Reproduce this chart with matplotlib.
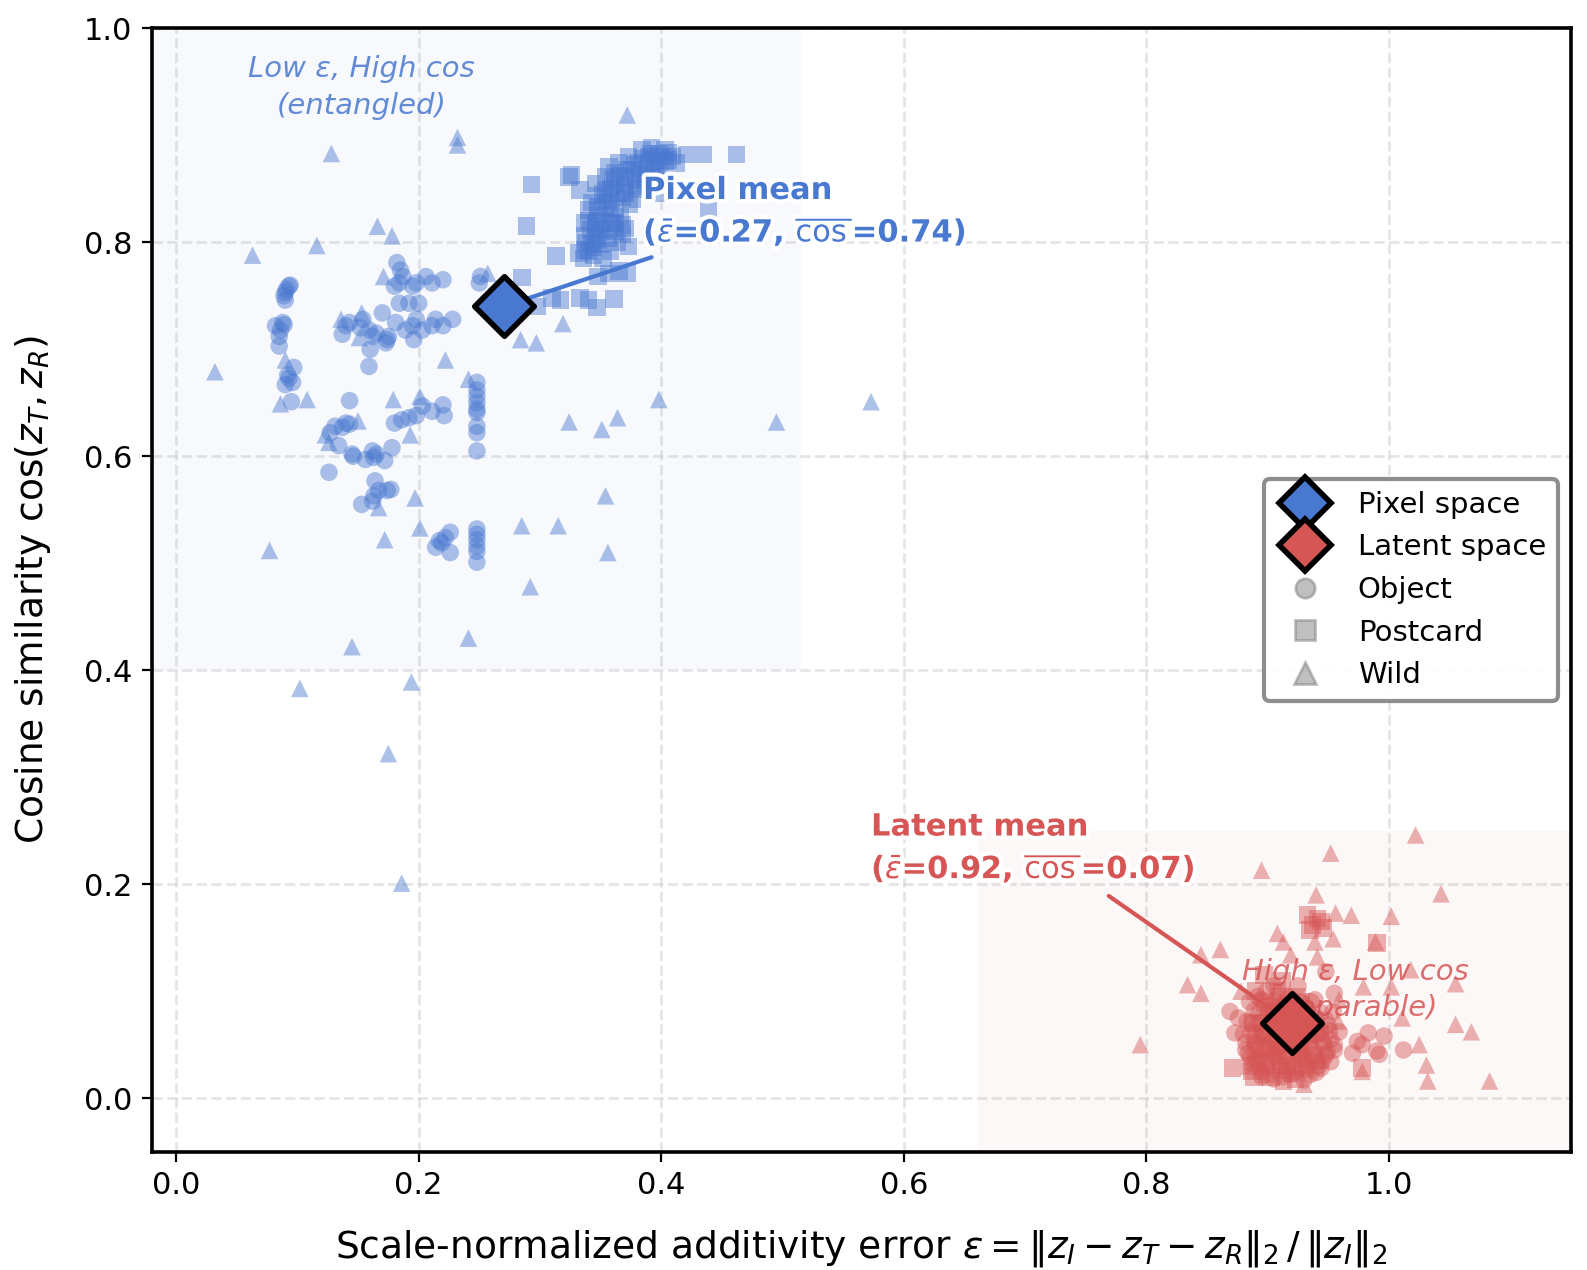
import numpy as np
import matplotlib
matplotlib.use("Agg")
import matplotlib.pyplot as plt
import matplotlib.patheffects as pe
from matplotlib.lines import Line2D
from matplotlib.patches import Rectangle

BLUE = "#4878d0"
RED = "#d65555"

# Pixel space points (epsilon, cos) per dataset
pix_obj_x = [0.090, 0.093, 0.091, 0.089, 0.094, 0.090,
             0.082, 0.088, 0.086, 0.085, 0.085, 0.089,
             0.092, 0.093, 0.097, 0.090, 0.096, 0.095,
             0.182, 0.185, 0.187, 0.184, 0.195, 0.198, 0.206, 0.211, 0.220, 0.180,
             0.184, 0.192, 0.200, 0.170, 0.181, 0.198, 0.195, 0.203, 0.211, 0.220,
             0.228, 0.214, 0.196, 0.189,
             0.140, 0.137, 0.143, 0.154, 0.152, 0.159, 0.162, 0.165, 0.160, 0.173,
             0.175, 0.174, 0.159,
             0.251, 0.250,
             0.248, 0.248, 0.248, 0.248, 0.248, 0.248, 0.248, 0.248, 0.248,
             0.131, 0.137, 0.143, 0.140, 0.127, 0.134, 0.143,
             0.186, 0.192, 0.198, 0.203, 0.211, 0.220, 0.221, 0.180,
             0.145, 0.146, 0.156, 0.162, 0.165, 0.172, 0.178, 0.163, 0.126,
             0.164, 0.167, 0.174, 0.177, 0.163, 0.153, 0.162,
             0.217, 0.222, 0.226, 0.219, 0.214, 0.226,
             0.248, 0.248, 0.248, 0.248, 0.248, 0.248]
pix_obj_y = [0.753, 0.759, 0.756, 0.750, 0.760, 0.746,
             0.722, 0.725, 0.718, 0.712, 0.703, 0.723,
             0.676, 0.673, 0.683, 0.667, 0.669, 0.651,
             0.781, 0.774, 0.768, 0.762, 0.759, 0.762, 0.768, 0.762, 0.765, 0.759,
             0.743, 0.743, 0.743, 0.734, 0.725, 0.728, 0.722, 0.718, 0.722, 0.722,
             0.728, 0.728, 0.709, 0.718,
             0.722, 0.714, 0.725, 0.728, 0.720, 0.718, 0.712, 0.715, 0.700, 0.706,
             0.712, 0.709, 0.684,
             0.768, 0.762,
             0.669, 0.662, 0.656, 0.650, 0.644, 0.641, 0.628, 0.622, 0.605,
             0.628, 0.627, 0.630, 0.631, 0.622, 0.610, 0.652,
             0.634, 0.636, 0.638, 0.647, 0.642, 0.648, 0.638, 0.631,
             0.602, 0.600, 0.597, 0.605, 0.602, 0.596, 0.608, 0.599, 0.585,
             0.577, 0.568, 0.568, 0.569, 0.563, 0.555, 0.558,
             0.521, 0.524, 0.529, 0.519, 0.515, 0.510,
             0.532, 0.527, 0.522, 0.516, 0.511, 0.501]

pix_post_x = [0.293, 0.326, 0.289, 0.285, 0.313, 0.298, 0.310, 0.317, 0.333, 0.340,
              0.347, 0.361, 0.373, 0.348, 0.357, 0.365, 0.372, 0.332, 0.337, 0.343,
              0.348, 0.337, 0.346, 0.354, 0.362, 0.370,
              0.343, 0.348, 0.354, 0.362, 0.370, 0.376, 0.381, 0.390, 0.398, 0.406,
              0.412, 0.395, 0.387, 0.379, 0.370, 0.359, 0.348, 0.340, 0.346, 0.357,
              0.365, 0.373, 0.384, 0.392, 0.403, 0.362, 0.354, 0.376,
              0.421, 0.435, 0.462, 0.439, 0.399, 0.324, 0.333, 0.337,
              0.352, 0.358, 0.364, 0.368,
              0.352, 0.358, 0.364, 0.370, 0.376, 0.382, 0.388, 0.394, 0.400, 0.406,
              0.360, 0.366, 0.372, 0.378, 0.385, 0.391, 0.397, 0.403, 0.409, 0.380,
              0.386, 0.392, 0.398, 0.356, 0.368, 0.374, 0.362,
              0.336, 0.340, 0.344, 0.338, 0.346, 0.350, 0.342, 0.352, 0.358, 0.348,
              0.354, 0.360, 0.366, 0.344, 0.350, 0.356, 0.362, 0.368, 0.340, 0.346]
pix_post_y = [0.854, 0.863, 0.815, 0.767, 0.787, 0.740, 0.748, 0.746, 0.748, 0.746,
              0.739, 0.747, 0.796, 0.768, 0.771, 0.773, 0.771, 0.790, 0.793, 0.799,
              0.802, 0.818, 0.815, 0.812, 0.818, 0.813,
              0.837, 0.843, 0.849, 0.855, 0.861, 0.868, 0.874, 0.880, 0.883, 0.877,
              0.874, 0.871, 0.861, 0.852, 0.846, 0.840, 0.833, 0.830, 0.855, 0.871,
              0.874, 0.880, 0.886, 0.888, 0.886, 0.865, 0.861, 0.840,
              0.882, 0.882, 0.882, 0.832, 0.846, 0.861, 0.849, 0.806,
              0.785, 0.792, 0.800, 0.808,
              0.845, 0.850, 0.846, 0.852, 0.858, 0.864, 0.870, 0.876, 0.880, 0.884,
              0.858, 0.862, 0.868, 0.872, 0.878, 0.883, 0.872, 0.876, 0.880, 0.850,
              0.856, 0.862, 0.866, 0.838, 0.842, 0.836, 0.832,
              0.785, 0.792, 0.788, 0.800, 0.806, 0.812, 0.812, 0.820, 0.826, 0.826,
              0.832, 0.818, 0.824, 0.795, 0.798, 0.804, 0.810, 0.816, 0.820, 0.818]

pix_wild_x = [0.032, 0.063, 0.077, 0.102, 0.116, 0.128, 0.086, 0.108, 0.090, 0.123,
              0.126, 0.136, 0.145, 0.153, 0.151, 0.166, 0.167, 0.171, 0.172, 0.178,
              0.175, 0.179, 0.186, 0.194, 0.197, 0.193, 0.201, 0.201, 0.232, 0.232,
              0.241, 0.241, 0.257, 0.222, 0.284, 0.297, 0.285, 0.292, 0.319, 0.324,
              0.315, 0.354, 0.356, 0.351, 0.364, 0.372, 0.398, 0.495, 0.573, 0.150]
pix_wild_y = [0.679, 0.788, 0.512, 0.383, 0.797, 0.883, 0.649, 0.653, 0.690, 0.620,
              0.613, 0.728, 0.422, 0.734, 0.711, 0.815, 0.552, 0.768, 0.522, 0.806,
              0.322, 0.653, 0.201, 0.389, 0.561, 0.620, 0.533, 0.656, 0.898, 0.891,
              0.430, 0.672, 0.771, 0.690, 0.709, 0.706, 0.535, 0.478, 0.724, 0.632,
              0.535, 0.563, 0.510, 0.625, 0.636, 0.919, 0.653, 0.632, 0.651, 0.633]

# Latent space points
lat_obj_x = [0.876, 0.880, 0.882, 0.885, 0.887, 0.889, 0.891, 0.893, 0.895, 0.897,
             0.899, 0.900, 0.902, 0.904, 0.906, 0.908, 0.910, 0.912, 0.914, 0.916,
             0.918, 0.920, 0.922, 0.924, 0.926, 0.928, 0.930, 0.932, 0.934, 0.936,
             0.938, 0.940, 0.942, 0.944, 0.946, 0.948, 0.950, 0.952, 0.955, 0.886,
             0.892, 0.898, 0.903, 0.909, 0.915, 0.921, 0.927, 0.933, 0.939, 0.905,
             0.925, 0.913, 0.935, 0.895, 0.945, 0.918, 0.901, 0.929, 0.911, 0.937,
             0.869, 0.873, 0.959, 0.974, 0.983, 0.990, 0.978, 0.970, 0.996, 1.012,
             0.992, 0.948, 0.955, 0.954,
             0.895, 0.905, 0.918, 0.930, 0.940,
             0.888, 0.899, 0.909, 0.921, 0.933, 0.944, 0.952,
             0.884, 0.894, 0.906, 0.916, 0.927, 0.938, 0.949,
             0.882, 0.891, 0.903, 0.913, 0.924, 0.935, 0.946, 0.955,
             0.886, 0.897, 0.907, 0.919, 0.930, 0.941, 0.951,
             0.883, 0.893, 0.904, 0.915, 0.926, 0.937, 0.948,
             0.889, 0.900, 0.911, 0.922, 0.933, 0.944,
             0.895, 0.906, 0.917, 0.928, 0.939]
lat_obj_y = [0.075, 0.060, 0.045, 0.090, 0.070, 0.052, 0.035, 0.080, 0.062, 0.045,
             0.100, 0.028, 0.070, 0.055, 0.040, 0.085, 0.065, 0.030, 0.050, 0.095,
             0.075, 0.040, 0.060, 0.025, 0.085, 0.050, 0.070, 0.035, 0.058, 0.090,
             0.045, 0.075, 0.030, 0.062, 0.050, 0.040, 0.068, 0.055, 0.045, 0.038,
             0.095, 0.058, 0.082, 0.048, 0.068, 0.088, 0.040, 0.080, 0.060, 0.105,
             0.105, 0.020, 0.022, 0.025, 0.035, 0.052, 0.045, 0.062, 0.078, 0.070,
             0.081, 0.061, 0.062, 0.053, 0.061, 0.044, 0.050, 0.042, 0.058, 0.045,
             0.041, 0.118, 0.098, 0.081,
             0.020, 0.018, 0.022, 0.017, 0.024,
             0.032, 0.030, 0.033, 0.029, 0.031, 0.028, 0.034,
             0.042, 0.040, 0.043, 0.039, 0.042, 0.040, 0.043,
             0.052, 0.050, 0.053, 0.049, 0.052, 0.050, 0.053, 0.050,
             0.062, 0.060, 0.063, 0.059, 0.062, 0.060, 0.063,
             0.072, 0.070, 0.073, 0.069, 0.072, 0.070, 0.073,
             0.082, 0.080, 0.083, 0.079, 0.082, 0.080,
             0.092, 0.090, 0.093, 0.089, 0.092]

lat_post_x = [0.933, 0.941, 0.937, 0.944, 0.935, 0.946, 0.990, 0.978, 0.871, 0.889,
              0.913, 0.885, 0.890, 0.895, 0.900, 0.905, 0.910, 0.915, 0.920, 0.925,
              0.930, 0.935, 0.940, 0.898, 0.908, 0.918, 0.928, 0.888, 0.903, 0.923,
              0.943, 0.912, 0.897,
              0.887, 0.899, 0.911, 0.921, 0.932, 0.892, 0.904, 0.916, 0.928, 0.940,
              0.897, 0.909, 0.926, 0.890, 0.912, 0.934, 0.896, 0.920, 0.902, 0.924,
              0.890, 0.910]
lat_post_y = [0.171, 0.168, 0.162, 0.165, 0.157, 0.159, 0.145, 0.028, 0.028, 0.020,
              0.016, 0.030, 0.045, 0.060, 0.035, 0.075, 0.050, 0.030, 0.065, 0.045,
              0.030, 0.055, 0.040, 0.090, 0.100, 0.085, 0.090, 0.070, 0.020, 0.018,
              0.060, 0.110, 0.115,
              0.025, 0.022, 0.026, 0.023, 0.027, 0.035, 0.038, 0.034, 0.037, 0.035,
              0.048, 0.045, 0.047, 0.058, 0.057, 0.065, 0.070, 0.075, 0.085, 0.095,
              0.100, 0.095]

lat_wild_x = [1.022, 0.952, 0.895, 1.043, 0.940, 1.002, 0.969, 0.956, 0.908, 0.913,
              0.954, 0.939, 0.989, 0.845, 0.861, 0.941, 0.919, 0.834, 0.845, 0.878,
              0.979, 1.002, 1.055, 1.018, 1.011, 1.055, 1.068, 1.025, 1.031, 1.032,
              1.083, 0.795, 0.978, 0.930, 0.958, 0.959]
lat_wild_y = [0.246, 0.229, 0.213, 0.191, 0.190, 0.170, 0.171, 0.173, 0.154, 0.146,
              0.149, 0.146, 0.146, 0.134, 0.139, 0.132, 0.134, 0.106, 0.098, 0.100,
              0.104, 0.104, 0.107, 0.120, 0.075, 0.069, 0.062, 0.050, 0.031, 0.016,
              0.016, 0.050, 0.025, 0.013, 0.072, 0.092]

# Mean of each space
mean_eps = [0.27, 0.92]
mean_cos = [0.74, 0.07]
space_names = ["Pixel", "Latent"]
space_colors = [BLUE, RED]


def draw_points(ax):
    common = dict(s=40, alpha=0.45, edgecolors="none", zorder=3)
    ax.scatter(pix_obj_x, pix_obj_y, marker="o", color=BLUE, **common)
    ax.scatter(pix_post_x, pix_post_y, marker="s", color=BLUE, **common)
    ax.scatter(pix_wild_x, pix_wild_y, marker="^", color=BLUE, **common)
    ax.scatter(lat_obj_x, lat_obj_y, marker="o", color=RED, **common)
    ax.scatter(lat_post_x, lat_post_y, marker="s", color=RED, **common)
    ax.scatter(lat_wild_x, lat_wild_y, marker="^", color=RED, **common)


def main():
    fig = plt.figure(figsize=(7.935, 6.35), dpi=200)
    ax = fig.add_axes([0.0957, 0.0932, 0.8941, 0.8845])

    xlim = (-0.02, 1.15)
    ylim = (-0.05, 1.0)
    ax.set_xlim(xlim)
    ax.set_ylim(ylim)

    # Shaded quadrants
    ax.add_patch(Rectangle((xlim[0], 0.4), 0.515 - xlim[0], ylim[1] - 0.4,
                           facecolor=BLUE, alpha=0.04, edgecolor="none", zorder=1))
    ax.add_patch(Rectangle((0.661, ylim[0]), xlim[1] - 0.661, 0.25 - ylim[0],
                           facecolor=RED, alpha=0.04, edgecolor="none", zorder=1))

    ax.text(0.153, 0.945, "Low ε, High cos\n(entangled)", ha="center", va="center",
            fontsize=10.5, style="italic", color=BLUE, alpha=0.85, zorder=2,
            linespacing=1.4)
    ax.text(0.972, 0.101, "High ε, Low cos\n(separable)", ha="center", va="center",
            fontsize=10.5, style="italic", color=RED, alpha=0.85, zorder=2,
            linespacing=1.4)

    draw_points(ax)

    # Mean markers
    for i in range(2):
        ax.scatter(mean_eps[i], mean_cos[i], marker="D", s=230, color=space_colors[i],
                   edgecolors="black", linewidths=2, zorder=6)

    stroke = [pe.withStroke(linewidth=3, foreground="white")]
    label_pos = [(0.385, 0.795), (0.573, 0.20)]
    line_start = [(0.392, 0.786), (0.769, 0.189)]
    for i in range(2):
        txt = (f"{space_names[i]} mean\n"
               rf"($\bar{{\varepsilon}}$={mean_eps[i]:.2f}, "
               rf"$\overline{{\cos}}$={mean_cos[i]:.2f})")
        ax.text(label_pos[i][0], label_pos[i][1], txt, ha="left", va="bottom",
                fontsize=11, fontweight="bold", color=space_colors[i],
                path_effects=stroke, zorder=7, linespacing=1.38)
        ax.annotate("", xy=(mean_eps[i], mean_cos[i]), xytext=line_start[i],
                    arrowprops=dict(arrowstyle="-", color=space_colors[i], lw=1.5,
                                    shrinkA=0, shrinkB=0), zorder=5)

    ax.grid(True, linestyle="--", color="#cccccc", alpha=0.5, lw=1)
    ax.set_axisbelow(True)
    ax.set_xticks([0.0, 0.2, 0.4, 0.6, 0.8, 1.0])
    ax.set_yticks([0.0, 0.2, 0.4, 0.6, 0.8, 1.0])
    ax.tick_params(labelsize=11)
    for sp in ax.spines.values():
        sp.set_linewidth(1.3)

    ax.set_xlabel(r"Scale-normalized additivity error $\varepsilon = \|z_I - z_T - z_R\|_2\,/\,\|z_I\|_2$",
                  fontsize=13.5, labelpad=10)
    ax.set_ylabel(r"Cosine similarity $\cos(z_T, z_R)$", fontsize=13.5, labelpad=11)

    # Legend
    handles = [
        Line2D([], [], marker="D", linestyle="none", markersize=13, markerfacecolor=BLUE,
               markeredgecolor="black", markeredgewidth=2, label="Pixel space"),
        Line2D([], [], marker="D", linestyle="none", markersize=13, markerfacecolor=RED,
               markeredgecolor="black", markeredgewidth=2, label="Latent space"),
        Line2D([], [], marker="o", linestyle="none", markersize=7, color="gray",
               alpha=0.5, label="Object"),
        Line2D([], [], marker="s", linestyle="none", markersize=7, color="gray",
               alpha=0.5, label="Postcard"),
        Line2D([], [], marker="^", linestyle="none", markersize=8, color="gray",
               alpha=0.5, label="Wild"),
    ]
    leg = ax.legend(handles=handles, loc="center right", fontsize=10.5, framealpha=0.95,
                    borderaxespad=0.45, handletextpad=0.8, labelspacing=0.5)
    leg.get_frame().set_edgecolor("#888888")
    leg.get_frame().set_linewidth(1.5)

    fig.savefig("out.png", dpi=200)
    plt.close(fig)


if __name__ == "__main__":
    main()
